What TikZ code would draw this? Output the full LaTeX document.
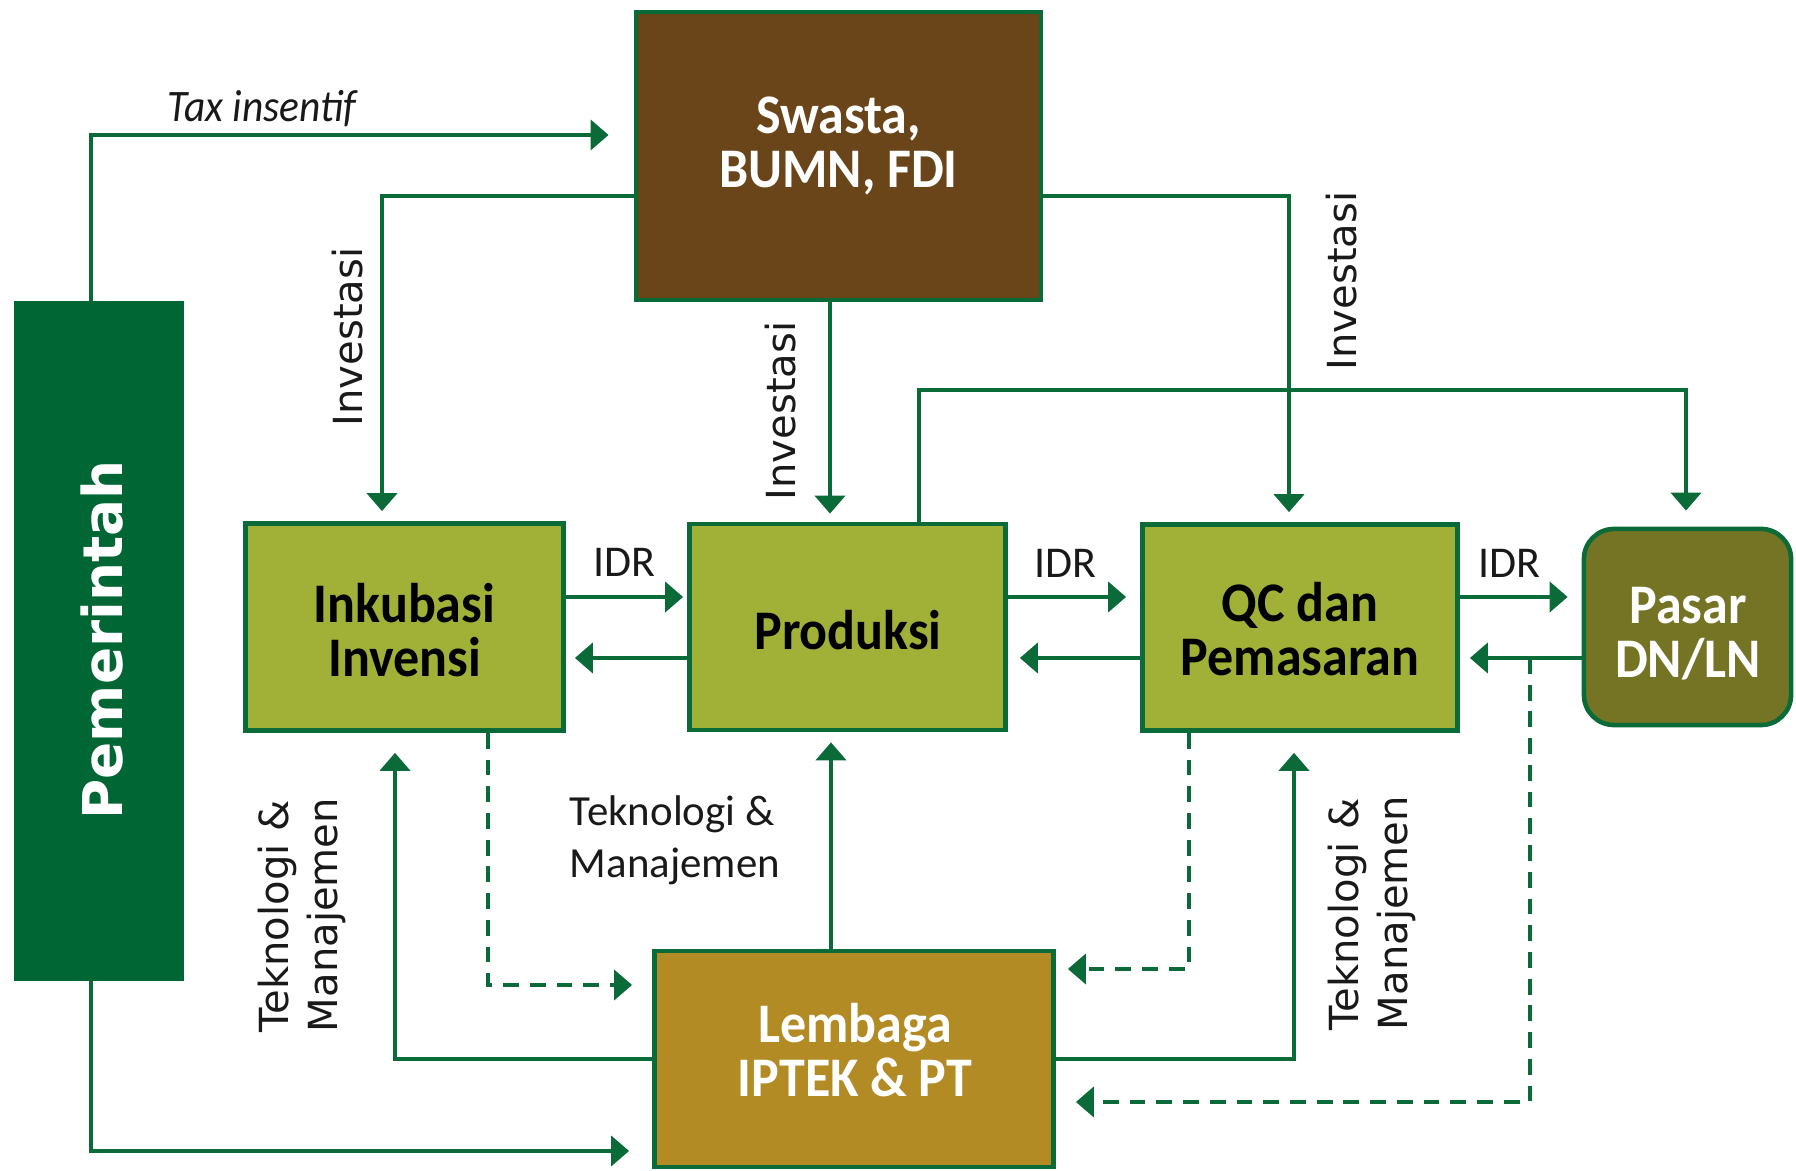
\documentclass[tikz,border=0pt]{standalone}
\usepackage{graphicx}
\usepackage{fontspec}
\setmainfont{Carlito}
\newfontfamily\vera{DejaVu Sans}
\usetikzlibrary{arrows.meta,calc}

\definecolor{lineg}{RGB}{10,106,56}
\definecolor{govg}{RGB}{0,102,51}
\definecolor{brownb}{RGB}{106,69,25}
\definecolor{oliveb}{RGB}{161,177,55}
\definecolor{marketb}{RGB}{116,116,36}
\definecolor{goldb}{RGB}{179,139,36}
\definecolor{inkc}{RGB}{25,25,25}

% narrow the width of a line of text
\newcommand{\hs}[2][0.93]{\scalebox{#1}[1]{#2}}

\begin{document}
\begin{tikzpicture}[x=0.01cm,y=-0.01cm,
  box/.style={draw=lineg, line width=1.3pt, inner sep=0pt},
  conn/.style={draw=lineg, line width=1.15pt},
  arr/.style={conn, -{Triangle[length=1.8mm,width=3mm]}},
  dsh/.style={arr, dash pattern=on 4.5pt off 3.1pt},
  boxlab/.style={inner sep=0pt, align=center,
    font=\fontsize{15.9}{15.36}\selectfont\bfseries},
  vlab/.style={inner sep=0pt, rotate=90, align=left, text=inkc,
    font=\vera\fontsize{11.4}{13.9}\selectfont},
  hlab/.style={inner sep=0pt, text=inkc, font=\fontsize{12.5}{14.8}\selectfont}
]
\useasboundingbox (0,0) rectangle (1796,1171);

% helper levels and columns
\coordinate (yTax) at (0,135);
\coordinate (yTop) at (0,390);
\coordinate (yIDR) at (0,597);
\coordinate (yRet) at (0,658);
\coordinate (yPem) at (0,1151);
\coordinate (yD1) at (0,985);
\coordinate (yD2) at (0,969);
\coordinate (yD3) at (0,1102);
\coordinate (x382) at (382,0);
\coordinate (x395) at (395,0);
\coordinate (x488) at (488,0);
\coordinate (x830) at (830,0);
\coordinate (x831) at (831,0);
\coordinate (x919) at (919,0);
\coordinate (x1189) at (1189,0);
\coordinate (x1289) at (1289,0);
\coordinate (x1294) at (1294,0);
\coordinate (x1530) at (1530,0);
\coordinate (x1686) at (1686,0);

% boxes
\node[box, fill=govg, draw=govg, minimum width=1.66cm, minimum height=6.76cm] (pem) at (99,641) {};
\node[box, fill=brownb, minimum width=4.05cm, minimum height=2.88cm] (swa) at (838.5,156) {};
\node[box, fill=oliveb, minimum width=3.18cm, minimum height=2.07cm] (ink) at (404.5,627) {};
\node[box, fill=oliveb, minimum width=3.16cm, minimum height=2.06cm] (pro) at (847.5,627) {};
\node[box, fill=oliveb, minimum width=3.15cm, minimum height=2.06cm] (qc) at (1300,627.5) {};
\node[box, fill=marketb, rounded corners=0.3cm, minimum width=2.07cm, minimum height=1.96cm] (pas) at (1687.5,627) {};
\node[box, fill=goldb, minimum width=3.99cm, minimum height=2.16cm] (lem) at (854,1059) {};

% box texts
\node[inner sep=0pt, rotate=90, text=white, font=\vera\bfseries\fontsize{15.6}{18}\selectfont] (pemT) at (102,640) {Pemerintah};
\node[boxlab, text=white] (swaT) at (838.5,146) {\hs{Swasta,}\\\hs{BUMN, FDI}};
\node[boxlab, text=black] (inkT) at (404.5,630) {\hs{Inkubasi}\\\hs{Invensi}};
\node[boxlab, text=black, anchor=base] (proT) at (848,650) {\hs{Produksi}};
\node[boxlab, text=black] (qcT) at (1300,629) {\hs{QC dan}\\\hs{Pemasaran}};
\node[boxlab, text=white] (pasT) at (1688,634) {\hs{Pasar}\\\hs{DN/LN}};
\node[boxlab, text=white] (lemT) at (855,1050.5) {\hs{Lembaga}\\\hs{IPTEK \& PT}};

% connectors from the top block
\draw[arr, shorten >=0.25cm] ([xshift=-0.08cm]pem.north) |- (swa.west |- yTax);
\draw[arr, shorten >=0.1cm] ([yshift=-0.40cm]swa.west) -| (ink.north -| x382);
\draw[arr, shorten >=0.08cm] (swa.south -| x830) -- (pro.north -| x830);
\draw[arr, shorten >=0.1cm] ([yshift=-0.40cm]swa.east) -| (qc.north -| x1289);
\draw[arr, shorten >=0.16cm] (pro.north -| x919) |- (x1686 |- yTop) -- (pas.north -| x1686);

% money flow along the chain
\draw[arr, shorten >=0.04cm] (ink.east |- yIDR) -- (pro.west |- yIDR);
\draw[arr, shorten >=0.09cm] (pro.west |- yRet) -- (ink.east |- yRet);
\draw[arr, shorten >=0.14cm] (pro.east |- yIDR) -- (qc.west |- yIDR);
\draw[arr, shorten >=0.12cm] (qc.west |- yRet) -- (pro.east |- yRet);
\draw[arr, shorten >=0.14cm] (qc.east |- yIDR) -- (pas.west |- yIDR);
\draw[arr, shorten >=0.1cm] (pas.west |- yRet) -- (qc.east |- yRet);

% technology and management from the institutes
\draw[arr, shorten >=0.1cm] (lem.north -| x831) -- (pro.south -| x831);
\draw[arr, shorten >=0.2cm] (lem.west) -| (ink.south -| x395);
\draw[arr, shorten >=0.2cm] (lem.east) -| (qc.south -| x1294);
\draw[arr, shorten >=0.23cm] ([xshift=-0.08cm]pem.south) |- (lem.west |- yPem);

% feedback (dashed)
\coordinate (split) at (x1530 |- yRet);
\draw[dsh, shorten >=0.2cm] (ink.south -| x488) |- (lem.west |- yD1);
\draw[dsh, shorten >=0.12cm] (qc.south -| x1189) |- (lem.east |- yD2);
\draw[dsh, shorten >=0.2cm] (split) |- (lem.east |- yD3);

% labels
\node[hlab, anchor=base, font=\fontsize{12.8}{14}\selectfont\itshape] (taxL) at (262,122) {\hs[0.92]{Tax insentif}};
\node[hlab, anchor=base] (idr1) at (624,577) {IDR};
\node[hlab, anchor=base] (idr2) at (1065,578) {IDR};
\node[hlab, anchor=base] (idr3) at (1509,578) {IDR};
\node[hlab, align=left, font=\fontsize{12.2}{14.8}\selectfont] (tmL) at (675,840) {Teknologi \&\\Manajemen};
\node[vlab] (inv1) at (348,337) {Investasi};
\node[vlab] (inv2) at (781,411) {Investasi};
\node[vlab] (inv3) at (1342,281) {Investasi};
\node[vlab] (tm1) at (302,915) {Teknologi \&\\Manajemen};
\node[vlab] (tm2) at (1372,913) {Teknologi \&\\Manajemen};
\end{tikzpicture}
\end{document}
